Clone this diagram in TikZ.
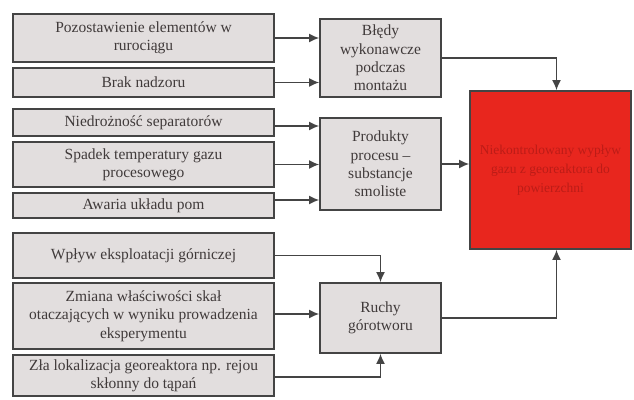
\documentclass[tikz,border=0pt]{standalone}
\usepackage{fontspec}
\setmainfont{Liberation Serif}
\newfontfamily\diagfont{Liberation Serif}
\usetikzlibrary{arrows.meta}
\definecolor{boxgray}{HTML}{E2DEDE}
\definecolor{linegray}{HTML}{444444}
\definecolor{txtgray}{HTML}{403A3A}
\definecolor{alarmred}{HTML}{E8261E}
\definecolor{darkred}{HTML}{BC1C17}
\tikzset{
	cause/.style={draw=linegray,line width=1.7pt,fill=boxgray,text=txtgray,align=center,
		minimum width=261pt,inner sep=0pt,font=\diagfont\fontsize{15.5}{18.3}\selectfont},
	group/.style={cause,minimum width=121pt},
	effect/.style={draw=linegray,line width=1.7pt,fill=alarmred,text=darkred,align=center,
		minimum width=161pt,minimum height=158pt,inner sep=0pt,font=\diagfont\fontsize{13.5}{19}\selectfont},
	arr/.style={draw=linegray,line width=1.6pt,-{Latex[length=10pt,width=9pt]}}
}
\begin{document}
\begin{tikzpicture}[x=1pt,y=-1pt]
	\useasboundingbox[fill=white] (0,0) rectangle (634,399);
	
	% Left column
	\node[cause,minimum height=48pt] (p1) at (143.5,38) {Pozostawienie elementów w\\rurociągu};
	\node[cause,minimum height=29pt] (p2) at (143.5,82.5) {Brak nadzoru};
	\node[cause,minimum height=27pt] (p3) at (143.5,122.5) {Niedrożność separatorów};
	\node[cause,minimum height=45pt] (p4) at (143.5,164.5) {Spadek temperatury gazu\\procesowego};
	\node[cause,minimum height=25pt] (p5) at (143.5,205.5) {Awaria układu pom};
	\node[cause,minimum height=45pt] (p6) at (143.5,255.5) {Wpływ eksploatacji górniczej};
	\node[cause,minimum height=66pt] (p7) at (143.5,316) {Zmiana właściwości skał\\otaczających w wyniku prowadzenia\\eksperymentu};
	\node[cause,minimum height=41pt] (p8) at (143.5,375.5) {Zła lokalizacja georeaktora np. rejou\\skłonny do tąpań};
	
	% Middle column
	\node[group,minimum height=78pt] (bledy) at (380.5,58) {Błędy\\wykonawcze\\podczas\\montażu};
	\node[group,minimum height=92pt] (produkty) at (380.5,164) {Produkty\\procesu –\\substancje\\smoliste};
	\node[group,minimum height=70pt] (ruchy) at (380.5,318) {Ruchy\\górotworu};
	
	% Effect
	\node[effect] (skutek) at (550.5,170) {Niekontrolowany wypływ\\gazu z georeaktora do\\powierzchni};
	
	% Arrows
	\draw[arr] (p1.east) -- (p1.east -| bledy.west);
	\draw[arr] (p2.east) -- (p2.east -| bledy.west);
	\draw[arr] ([yshift=-3.5pt]p3.east) -- ([yshift=-3.5pt]p3.east -| produkty.west);
	\draw[arr] (p4.east) -- (p4.east -| produkty.west);
	\draw[arr] ([yshift=5.5pt]p5.east) -- ([yshift=5.5pt]p5.east -| produkty.west);
	\draw[arr] (p6.east) -| (ruchy.north);
	\draw[arr] ([yshift=2pt]p7.east) -- ([yshift=2pt]p7.east -| ruchy.west);
	\draw[arr] ([yshift=-1.5pt]p8.east) -| (ruchy.south);
	
	\draw[arr] (bledy.east) -| ([xshift=6pt]skutek.north);
	\draw[arr] (produkty.east) -- (produkty.east -| skutek.west);
	\draw[arr] (ruchy.east) -| ([xshift=6pt]skutek.south);
\end{tikzpicture}
\end{document}
